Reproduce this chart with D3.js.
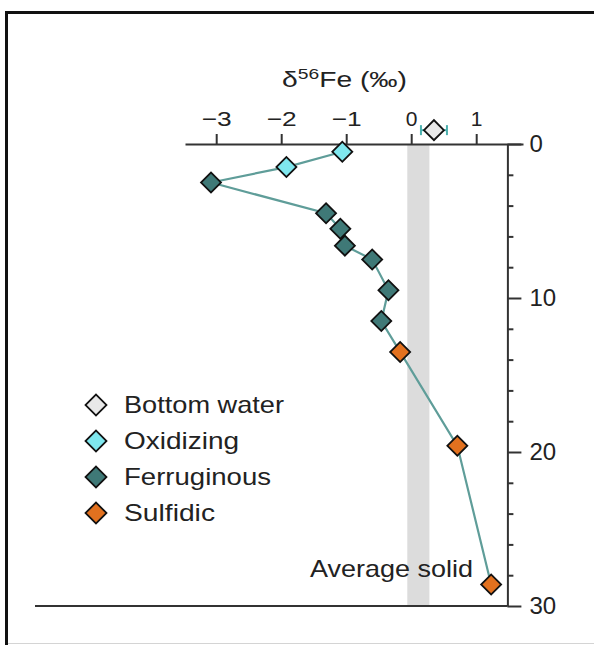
<!DOCTYPE html>
<html>
<head>
<meta charset="utf-8">
<script src="https://cdn.jsdelivr.net/npm/d3@7"></script>
<style>
  html, body { margin: 0; padding: 0; background: #fff; }
  svg { display: block; }
  text { font-family: "Liberation Sans", Arial, Helvetica, sans-serif; fill: #222; }
</style>
</head>
<body>
<svg id="chart" width="594" height="645"></svg>
<script>
// ---- data ----
const oxidizingValue = [-1.06, -1.92];
const oxidizingDepth = [0.5, 1.5];
const ferruginousValue = [-3.08, -1.31, -1.09, -1.02, -0.60, -0.35, -0.46];
const ferruginousDepth = [2.5, 4.5, 5.5, 6.6, 7.5, 9.5, 11.5];
const sulfidicValue = [-0.17, 0.71, 1.23];
const sulfidicDepth = [13.5, 19.6, 28.6];
const bottomWaterValue = [0.35];
const bottomWaterDepth = [-0.9];
const bottomWaterError = [0.2];
const averageSolidBand = [-0.06, 0.28];
const xTicks = [-3, -2, -1, 0, 1];
const yMajorTicks = [0, 10, 20, 30];
const yMinorTicks = [2, 4, 6, 8, 12, 14, 16, 18, 22, 24, 26, 28];
const legendLabels = ["Bottom water", "Oxidizing", "Ferruginous", "Sulfidic"];

const colors = {
  "Bottom water": "#e8e8e8",
  "Oxidizing": "#7fe7ee",
  "Ferruginous": "#3f7977",
  "Sulfidic": "#e2711f"
};
const lineColor = "#5f9d99";

const svg = d3.select("#chart");

// frame
svg.append("line").attr("x1", 6.5).attr("x2", 594).attr("y1", 12.5).attr("y2", 12.5)
  .attr("stroke", "#111").attr("stroke-width", 3);
svg.append("line").attr("x1", 6.5).attr("x2", 6.5).attr("y1", 11).attr("y2", 645)
  .attr("stroke", "#111").attr("stroke-width", 3);
svg.append("line").attr("x1", 8).attr("x2", 594).attr("y1", 643.5).attr("y2", 643.5)
  .attr("stroke", "#d4d4d4").attr("stroke-width", 1);

// scales
const x = d3.scaleLinear().domain([-3.48, 1.72]).range([185, 523]);
const y = d3.scaleLinear().domain([0, 30]).range([144, 606]);

// average solid band
svg.append("rect")
  .attr("x", x(averageSolidBand[0]))
  .attr("width", x(averageSolidBand[1]) - x(averageSolidBand[0]))
  .attr("y", y(0)).attr("height", y(30) - y(0))
  .attr("fill", "#dcdcdc");

// bottom axis line
svg.append("line").attr("x1", 35).attr("x2", x(1.48)).attr("y1", y(30)).attr("y2", y(30))
  .attr("stroke", "#333").attr("stroke-width", 2);

// top x axis
const xAxis = svg.append("g").attr("transform", `translate(0,${y(0)})`)
  .call(d3.axisTop(x).tickValues(xTicks).tickSize(10).tickSizeOuter(0)
    .tickFormat(d => d < 0 ? "\u2212" + Math.abs(d) : d));
xAxis.select(".domain").attr("stroke", "#333").attr("stroke-width", 2);
xAxis.selectAll(".tick line").attr("stroke", "#333").attr("stroke-width", 2);
xAxis.selectAll(".tick text").attr("font-size", 21).attr("y", -18).attr("fill", "#222")
  .each(function(d) {
    if (d < 0) d3.select(this).attr("textLength", 30).attr("lengthAdjust", "spacingAndGlyphs");
  });

// right y axis
const yAxis = svg.append("g").attr("transform", `translate(${x(1.48)},0)`)
  .call(d3.axisRight(y).tickValues(yMajorTicks).tickSize(14).tickSizeOuter(0).tickPadding(8));
yAxis.select(".domain").attr("stroke", "#333").attr("stroke-width", 2);
yAxis.selectAll(".tick line").attr("stroke", "#333").attr("stroke-width", 2);
yAxis.selectAll(".tick text").attr("font-size", 24).attr("fill", "#222");
const yMinor = svg.append("g").attr("transform", `translate(${x(1.48)},0)`)
  .call(d3.axisRight(y).tickValues(yMinorTicks).tickSize(6).tickFormat(""));
yMinor.select(".domain").remove();
yMinor.selectAll(".tick line").attr("stroke", "#333").attr("stroke-width", 2);

// title
const title = svg.append("text").attr("x", 282).attr("y", 87).attr("font-size", 22)
  .attr("textLength", 125).attr("lengthAdjust", "spacingAndGlyphs");
title.append("tspan").text("\u03b4");
title.append("tspan").attr("font-size", 15).attr("dy", -8).text("56");
title.append("tspan").attr("dy", 8).text("Fe (\u2030)");

// profile line
const profile = [];
oxidizingValue.forEach((v, i) => profile.push([v, oxidizingDepth[i]]));
ferruginousValue.forEach((v, i) => profile.push([v, ferruginousDepth[i]]));
sulfidicValue.forEach((v, i) => profile.push([v, sulfidicDepth[i]]));
svg.append("path")
  .attr("d", d3.line().x(d => x(d[0])).y(d => y(d[1]))(profile))
  .attr("fill", "none").attr("stroke", lineColor).attr("stroke-width", 2.2);

// error bar for bottom water
const errG = svg.append("g").attr("stroke", "#4bb0ae").attr("stroke-width", 2);
bottomWaterValue.forEach((v, i) => {
  const yy = y(bottomWaterDepth[i]);
  const lo = x(v - bottomWaterError[i]), hi = x(v + bottomWaterError[i]);
  errG.append("line").attr("x1", lo).attr("x2", hi).attr("y1", yy).attr("y2", yy);
  errG.append("line").attr("x1", lo).attr("x2", lo).attr("y1", yy - 5).attr("y2", yy + 5);
  errG.append("line").attr("x1", hi).attr("x2", hi).attr("y1", yy - 5).attr("y2", yy + 5);
});

// diamonds
const diamond = d3.symbol().type(d3.symbolSquare).size(200);
function drawPoints(values, depths, cat) {
  svg.append("g").selectAll("path").data(values.map((v, i) => [v, depths[i]]))
    .join("path")
    .attr("d", diamond)
    .attr("transform", d => `translate(${x(d[0])},${y(d[1])}) rotate(45)`)
    .attr("fill", colors[cat]).attr("stroke", "#111").attr("stroke-width", 1.8);
}
drawPoints(bottomWaterValue, bottomWaterDepth, "Bottom water");
drawPoints(oxidizingValue, oxidizingDepth, "Oxidizing");
drawPoints(ferruginousValue, ferruginousDepth, "Ferruginous");
drawPoints(sulfidicValue, sulfidicDepth, "Sulfidic");

// legend
const legendDiamond = d3.symbol().type(d3.symbolSquare).size(220);
const lg = svg.append("g").attr("transform", "translate(96,405)");
const legendWidths = { "Bottom water": 160, "Oxidizing": 115, "Ferruginous": 147, "Sulfidic": 91 };
legendLabels.forEach((lab, i) => {
  const row = lg.append("g").attr("transform", `translate(0,${i * 36})`);
  row.append("path").attr("d", legendDiamond).attr("transform", "rotate(45)")
    .attr("fill", colors[lab]).attr("stroke", "#111").attr("stroke-width", 1.8);
  row.append("text").attr("x", 28).attr("y", 8).attr("font-size", 24)
    .attr("textLength", legendWidths[lab]).attr("lengthAdjust", "spacingAndGlyphs")
    .text(lab);
});

// average solid label
svg.append("text").attr("x", 310).attr("y", 577).attr("font-size", 24)
  .attr("textLength", 163).attr("lengthAdjust", "spacingAndGlyphs")
  .text("Average solid");
</script>
</body>
</html>
